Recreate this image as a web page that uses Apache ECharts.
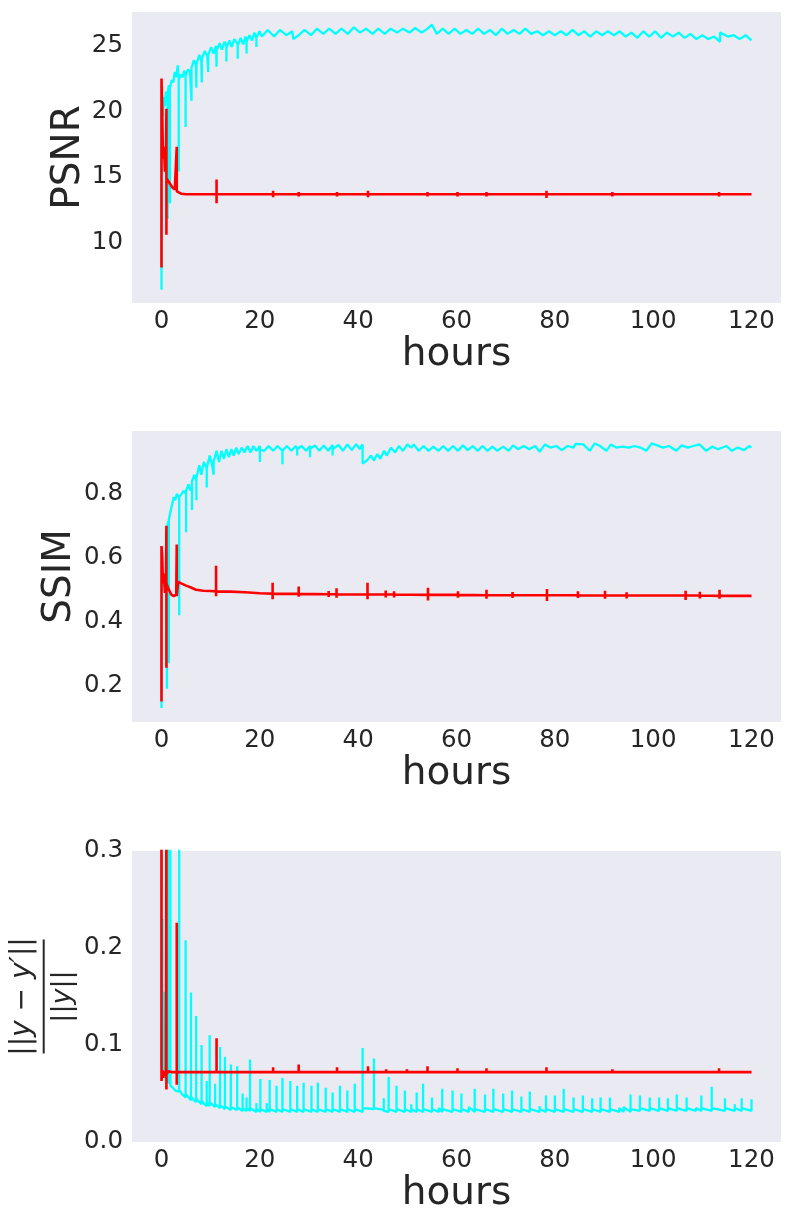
<!DOCTYPE html>
<html>
<head>
<meta charset="utf-8">
<script src="https://cdn.jsdelivr.net/npm/echarts@6/dist/echarts.min.js"></script>
<style>
  html, body { margin: 0; padding: 0; background: #fff; }
  #chart { width: 791px; height: 1224px; }
</style>
</head>
<body>
<div id="chart"></div>
<script>
// tick labels
const hourTicks = [0, 20, 40, 60, 80, 100, 120];
const psnrTicks = [10, 15, 20, 25];
const ssimTicks = [0.2, 0.4, 0.6, 0.8];
const errTicks = [0.0, 0.1, 0.2, 0.3];

// each row: [hour, value, value, ...] -> the line visits the values in order at that hour
const psnrCyan = [
  [0, 6.4, 20.3], [0.3, 19.6], [0.5, 21.1], [0.7, 20.4], [0.9, 21.5], [1.1, 20.8],
  [1.25, 21.2, 11.8, 21.4], [1.5, 22.0], [1.7, 21.9, 13.0, 21.8], [2.1, 22.4], [2.4, 22.2],
  [2.7, 23.0], [3.0, 22.6], [3.3, 23.5], [3.5, 22.5, 15.4, 22.4], [3.9, 22.8], [4.3, 22.6],
  [4.6, 23.1], [4.9, 22.8, 18.8, 22.7], [5.4, 23.2], [5.8, 23.0], [6.1, 23.1, 20.8, 23.3],
  [6.6, 23.9], [7.0, 23.5], [7.1, 23.5, 21.8, 23.6], [7.7, 24.3], [8.1, 23.8],
  [8.2, 23.8, 22.2, 24.0], [8.8, 24.6], [9.3, 24.2], [9.5, 24.3, 23.0, 24.3], [10.1, 24.9],
  [10.6, 24.4], [11.1, 25.0], [11.2, 24.9, 23.4, 24.6], [11.8, 25.2], [12.3, 24.7], [12.8, 25.3],
  [13.2, 25.0, 23.8, 24.8], [13.8, 25.4], [14.3, 24.9], [14.8, 25.5], [15.5, 25.1, 24.0, 25.0],
  [16.1, 25.6], [16.6, 25.1], [17.1, 25.7], [17.3, 25.4, 24.4, 25.3], [17.9, 25.8], [18.4, 25.4],
  [18.9, 26.0], [19.3, 25.6, 24.9, 25.6], [19.9, 26.1], [20.4, 25.7],
  [21.6, 26.2], [22.9, 25.7], [24.1, 26.2], [25.4, 25.8], [26.6, 26.1], [26.8, 25.5], [27.9, 25.8],
  [29.1, 26.2], [30.4, 25.8], [31.6, 26.3], [32.9, 25.9], [34.1, 26.3], [35.4, 25.9], [36.6, 26.3],
  [37.9, 25.9], [39.1, 26.4], [40.4, 26.0], [41.6, 26.3], [42.9, 25.9], [44.1, 26.3], [45.4, 25.9],
  [46.6, 26.3], [47.9, 26.0], [49.1, 26.3], [50.4, 26.0], [51.6, 26.35], [52.9, 26.0], [54.1, 26.3],
  [55.0, 26.6], [56.0, 25.9], [57.2, 26.3], [58.4, 25.9], [59.6, 26.3], [60.8, 25.9], [62.0, 26.2],
  [63.2, 25.9], [64.4, 26.3], [65.6, 25.9], [66.8, 26.2], [68.0, 25.8], [69.2, 26.3], [70.4, 25.9],
  [71.6, 26.2], [72.8, 25.9], [74.0, 26.3], [75.2, 25.9], [76.4, 26.1], [77.6, 25.8], [78.8, 26.1],
  [80.0, 25.8], [81.2, 26.1], [82.4, 25.8], [83.6, 26.2], [84.8, 25.8], [86.0, 26.1], [87.2, 25.7],
  [88.4, 26.1], [89.6, 25.8], [90.8, 26.1], [92.0, 25.8], [93.2, 26.1], [94.4, 25.7], [95.6, 26.0],
  [96.8, 25.6], [98.0, 26.1], [99.2, 25.7], [100.4, 26.1], [101.6, 25.6], [102.8, 26.0], [104.0, 25.7],
  [105.2, 26.0], [106.4, 25.6], [107.6, 25.9], [108.8, 25.5], [110.0, 25.8], [111.2, 25.5],
  [112.4, 25.7], [113.6, 25.3, 26.0], [115.2, 25.7], [116.4, 25.8], [117.6, 25.5], [118.8, 25.8],
  [120.0, 25.4]
];
const psnrRed = [
  [0, 8.1, 22.5], [0.1, 21.0], [0.3, 16.4], [0.5, 17.3], [0.7, 15.4], [0.9, 15.8],
  [1.0, 20.2, 10.6, 14.9], [1.3, 14.8], [1.7, 14.5], [2.2, 14.2], [2.7, 14.05],
  [3.1, 13.95, 17.3, 13.9], [3.5, 13.8], [4.0, 13.72], [5.0, 13.68],
  [11.2, 13.68, 14.8, 13.0, 13.68], [22.7, 13.68, 13.95, 13.45, 13.68],
  [27.9, 13.68, 13.85, 13.5, 13.68], [35.7, 13.68, 13.85, 13.5, 13.68],
  [42.0, 13.68, 13.95, 13.45, 13.68], [54.1, 13.68, 13.85, 13.5, 13.68],
  [60.2, 13.68, 13.85, 13.5, 13.68], [66.1, 13.68, 13.85, 13.5, 13.68],
  [78.3, 13.68, 13.95, 13.4, 13.68], [91.7, 13.68, 13.85, 13.5, 13.68],
  [113.4, 13.68, 13.85, 13.5, 13.68], [120.0, 13.68]
];

const ssimCyan = [
  [0, 0.13, 0.37], [0.15, 0.53], [0.35, 0.51], [0.55, 0.55], [0.8, 0.52], [1.0, 0.60],
  [1.1, 0.62, 0.19, 0.68], [1.4, 0.715], [1.5, 0.71, 0.27, 0.72], [1.9, 0.75], [2.2, 0.77],
  [2.5, 0.79], [2.8, 0.78], [3.1, 0.80], [3.6, 0.79, 0.42, 0.79], [4.1, 0.80], [4.5, 0.81],
  [5.0, 0.80, 0.68, 0.81], [5.5, 0.83], [5.9, 0.81], [6.2, 0.82, 0.75, 0.84], [6.7, 0.86],
  [7.1, 0.84, 0.78, 0.85], [7.7, 0.89], [8.1, 0.86], [8.6, 0.90], [9.2, 0.88, 0.82, 0.88],
  [9.8, 0.92], [10.3, 0.89], [10.6, 0.89, 0.86, 0.90], [11.2, 0.935], [11.7, 0.90], [12.2, 0.935],
  [12.7, 0.91], [13.2, 0.94], [13.7, 0.915], [14.2, 0.94], [14.7, 0.92], [15.2, 0.945],
  [15.7, 0.925], [16.3, 0.945], [16.9, 0.93], [17.5, 0.95], [18.1, 0.93], [18.7, 0.95],
  [19.3, 0.935], [20.0, 0.95, 0.90, 0.94], [20.9, 0.935], [21.8, 0.95], [22.7, 0.935],
  [23.6, 0.95], [24.6, 0.935, 0.893, 0.935], [25.5, 0.95], [26.4, 0.935], [27.3, 0.95],
  [27.6, 0.94, 0.92, 0.94], [28.5, 0.95], [29.4, 0.935], [30.2, 0.95, 0.915, 0.94], [31.2, 0.952],
  [32.1, 0.935], [33.0, 0.952], [33.9, 0.935], [34.8, 0.953, 0.92, 0.94], [36.0, 0.953],
  [36.9, 0.935], [37.8, 0.955], [38.7, 0.937], [39.6, 0.956], [40.3, 0.94], [40.9, 0.955, 0.895],
  [41.8, 0.905], [42.6, 0.92], [43.2, 0.905], [43.9, 0.925], [44.5, 0.91], [45.3, 0.935],
  [45.8, 0.92], [46.7, 0.945], [47.5, 0.93], [48.3, 0.95], [49.1, 0.935], [50.0, 0.955],
  [50.8, 0.945], [51.3, 0.955], [52.3, 0.935], [53.3, 0.95], [54.3, 0.935], [55.3, 0.948],
  [56.3, 0.935], [57.3, 0.95], [58.3, 0.935], [59.3, 0.95], [60.3, 0.935], [61.3, 0.952],
  [62.3, 0.937], [63.3, 0.95], [64.3, 0.935], [65.3, 0.95], [66.3, 0.935], [67.3, 0.948],
  [68.3, 0.935], [69.5, 0.948], [70.6, 0.935], [71.5, 0.952], [72.5, 0.94], [73.7, 0.95],
  [74.8, 0.94], [76.0, 0.95], [76.9, 0.932], [78.0, 0.955], [79.1, 0.945], [80.3, 0.95],
  [81.4, 0.937], [82.6, 0.95], [83.8, 0.945], [84.2, 0.957], [85.8, 0.955], [87.1, 0.935],
  [88.1, 0.958], [89.2, 0.95], [90.5, 0.935], [91.4, 0.955], [92.5, 0.945], [93.8, 0.948],
  [95.0, 0.945], [96.2, 0.95], [97.4, 0.945], [98.6, 0.935], [99.7, 0.958], [100.8, 0.952],
  [102.0, 0.945], [103.2, 0.95], [104.7, 0.935], [105.8, 0.952], [107.0, 0.945], [108.2, 0.95],
  [109.4, 0.955], [110.8, 0.935], [112.0, 0.948], [113.2, 0.94], [114.9, 0.95], [116.0, 0.935],
  [117.2, 0.945], [118.5, 0.937], [119.5, 0.95], [120.0, 0.945]
];
const ssimRed = [
  [0, 0.15, 0.637], [0.15, 0.60], [0.3, 0.52], [0.5, 0.55], [0.7, 0.49], [0.9, 0.50],
  [1.0, 0.70, 0.256, 0.52], [1.5, 0.50], [2.0, 0.485], [2.5, 0.48], [3.0, 0.485],
  [3.1, 0.642, 0.48], [3.4, 0.525], [4.0, 0.52], [5.0, 0.513], [6.0, 0.507], [7.0, 0.50],
  [8.5, 0.497], [10.0, 0.496], [11.1, 0.495, 0.575, 0.48, 0.495], [14.0, 0.494], [17.0, 0.492],
  [20.0, 0.489], [22.6, 0.488, 0.522, 0.47, 0.488], [27.9, 0.487, 0.51, 0.478, 0.487],
  [34.0, 0.486, 0.496, 0.477, 0.486], [35.6, 0.486, 0.505, 0.475, 0.486],
  [41.9, 0.485, 0.522, 0.47, 0.485], [45.6, 0.485, 0.498, 0.476, 0.485],
  [47.3, 0.485, 0.495, 0.476, 0.485], [54.2, 0.484, 0.506, 0.466, 0.484],
  [60.3, 0.484, 0.495, 0.475, 0.484], [66.1, 0.483, 0.5, 0.472, 0.483],
  [71.4, 0.483, 0.493, 0.474, 0.483], [78.4, 0.483, 0.502, 0.465, 0.483],
  [84.7, 0.483, 0.495, 0.474, 0.483], [90.2, 0.482, 0.497, 0.472, 0.482],
  [94.6, 0.482, 0.492, 0.473, 0.482], [106.6, 0.482, 0.497, 0.468, 0.482],
  [109.5, 0.482, 0.494, 0.473, 0.482], [113.5, 0.481, 0.5, 0.472, 0.481], [120.0, 0.481]
];

const errCyan = [
  [0, 0.35, 0.14, 0.35, 0.08], [0.2, 0.08, 0.23, 0.075], [0.5, 0.07, 0.155, 0.068], [0.9, 0.065],
  [1.3, 0.064, 0.35, 0.062], [1.8, 0.06, 0.35, 0.058], [2.3, 0.056], [2.8, 0.053], [3.2, 0.055],
  [3.6, 0.052, 0.35, 0.054], [4.2, 0.049], [4.9, 0.046, 0.208, 0.05], [5.5, 0.046],
  [6.0, 0.043, 0.154, 0.047], [6.6, 0.043], [7.05, 0.041, 0.13, 0.045], [7.7, 0.041],
  [8.15, 0.039, 0.10, 0.043], [8.7, 0.039], [9.2, 0.037, 0.063, 0.041], [9.8, 0.037, 0.11, 0.041],
  [10.9, 0.036, 0.06, 0.039], [11.9, 0.035, 0.098, 0.038], [12.9, 0.034, 0.088, 0.037],
  [14.1, 0.033, 0.08, 0.036], [15.4, 0.033, 0.078, 0.036], [16.5, 0.032, 0.05, 0.035],
  [17.3, 0.032, 0.046, 0.035], [18.0, 0.032, 0.085, 0.035], [19.3, 0.031, 0.04, 0.034],
  [20.1, 0.031, 0.065, 0.034], [21.4, 0.031, 0.040, 0.034], [22.0, 0.031, 0.064, 0.034],
  [23.4, 0.031, 0.058, 0.034], [24.6, 0.031, 0.066, 0.034], [26.2, 0.031, 0.063, 0.034],
  [27.6, 0.031, 0.058, 0.034], [28.9, 0.031, 0.061, 0.034], [30.5, 0.031, 0.058, 0.034],
  [31.8, 0.031, 0.061, 0.034], [33.4, 0.031, 0.056, 0.034], [34.8, 0.031, 0.051, 0.034],
  [36.3, 0.031, 0.058, 0.034], [37.8, 0.031, 0.053, 0.034], [39.3, 0.031, 0.060, 0.034],
  [40.9, 0.031, 0.097, 0.035], [43.2, 0.034, 0.086, 0.035], [45.2, 0.033, 0.045, 0.032],
  [46.2, 0.031, 0.067, 0.034], [47.8, 0.031, 0.058, 0.034], [49.5, 0.031, 0.053, 0.034],
  [50.8, 0.031, 0.039, 0.034], [51.9, 0.031, 0.051, 0.034], [53.2, 0.031, 0.060, 0.034],
  [55.0, 0.031, 0.046, 0.034], [56.4, 0.031, 0.035, 0.034], [57.1, 0.031, 0.055, 0.034],
  [59.2, 0.031, 0.053, 0.034], [61.0, 0.031, 0.050, 0.034], [62.5, 0.031, 0.036, 0.034],
  [63.7, 0.031, 0.055, 0.034], [65.8, 0.031, 0.049, 0.034], [67.5, 0.031, 0.055, 0.034],
  [69.5, 0.031, 0.050, 0.034], [71.3, 0.031, 0.053, 0.034], [73.2, 0.031, 0.047, 0.034],
  [74.9, 0.031, 0.052, 0.034], [76.9, 0.031, 0.037, 0.034], [78.2, 0.031, 0.048, 0.034],
  [80.0, 0.031, 0.048, 0.034], [81.8, 0.031, 0.055, 0.034], [83.8, 0.031, 0.046, 0.034],
  [85.7, 0.031, 0.048, 0.034], [87.6, 0.031, 0.045, 0.034], [89.3, 0.031, 0.046, 0.034],
  [91.2, 0.031, 0.046, 0.034], [93.1, 0.031, 0.035, 0.034], [94.0, 0.031, 0.036, 0.034],
  [95.4, 0.031, 0.049, 0.034], [97.3, 0.032, 0.048, 0.035], [99.3, 0.032, 0.046, 0.035],
  [101.2, 0.032, 0.046, 0.035], [103.0, 0.032, 0.045, 0.035], [104.8, 0.032, 0.049, 0.035],
  [106.8, 0.032, 0.046, 0.035], [108.7, 0.032, 0.035, 0.035], [109.8, 0.032, 0.048, 0.035],
  [111.9, 0.032, 0.057, 0.035], [114.6, 0.032, 0.045, 0.035], [116.6, 0.032, 0.039, 0.035],
  [118.0, 0.032, 0.045, 0.035], [120.0, 0.032, 0.044]
];
const errRed = [
  [0, 0.35, 0.063], [0.2, 0.074], [0.35, 0.066], [0.5, 0.073], [0.7, 0.068], [0.9, 0.073],
  [1.0, 0.35, 0.054, 0.07], [1.5, 0.073], [2.0, 0.072], [3.1, 0.072, 0.226, 0.059, 0.072],
  [11.2, 0.072, 0.107, 0.072], [22.7, 0.072, 0.077, 0.072], [27.9, 0.072, 0.080, 0.072],
  [35.7, 0.072, 0.077, 0.072], [42.0, 0.072, 0.078, 0.072], [45.7, 0.072, 0.075, 0.072],
  [49.9, 0.072, 0.075, 0.072], [54.1, 0.072, 0.078, 0.072], [60.2, 0.072, 0.076, 0.072],
  [66.1, 0.072, 0.076, 0.072], [78.3, 0.072, 0.077, 0.072], [91.7, 0.072, 0.075, 0.072],
  [113.4, 0.072, 0.076, 0.072], [120.0, 0.072]
];

const CYAN = '#00FFFF';
const RED = '#FF0000';
const TEXT = '#262626';
const FONT = 'DejaVu Sans';

function toPoints(rows) {
  const pts = [];
  rows.forEach(r => {
    for (let i = 1; i < r.length; i++) pts.push([r[0], r[i]]);
  });
  return pts;
}

const gridTops = [12, 431, 851];
const labelStyle = { color: TEXT, fontSize: 24.5, fontFamily: FONT };
const nameStyle = { color: TEXT, fontSize: 39, fontFamily: FONT };

const chart = echarts.init(document.getElementById('chart'));

const grids = gridTops.map(t => ({
  left: 132, top: t, width: 649, height: 291,
  show: true, backgroundColor: '#EAEAF2', borderWidth: 0
}));

const xAxes = gridTops.map((t, i) => ({
  gridIndex: i, type: 'value', min: -6, max: 126,
  axisLine: { show: false }, axisTick: { show: false }, splitLine: { show: false },
  axisLabel: Object.assign({ customValues: hourTicks, margin: 6 }, labelStyle),
  name: 'hours', nameLocation: 'middle', nameGap: 32, nameTextStyle: nameStyle
}));

function yAxis(i, min, max, ticks, digits, name, gap) {
  return {
    gridIndex: i, type: 'value', min: min, max: max,
    axisLine: { show: false }, axisTick: { show: false }, splitLine: { show: false },
    axisLabel: Object.assign({
      customValues: ticks, margin: 9,
      formatter: v => v.toFixed(digits)
    }, labelStyle),
    name: name, nameLocation: 'middle', nameGap: gap, nameMoveOverlap: false,
    nameTextStyle: nameStyle
  };
}

const yAxes = [
  yAxis(0, 5.39, 27.57, psnrTicks, 0, 'PSNR', 44),
  yAxis(1, 0.086, 0.997, ssimTicks, 1, 'SSIM', 53),
  yAxis(2, 0, 0.3, errTicks, 1, '', 0)
];

function line(i, rows, color, width) {
  return {
    type: 'line', xAxisIndex: i, yAxisIndex: i,
    data: toPoints(rows), showSymbol: false, symbol: 'none',
    lineStyle: { color: color, width: width }, clip: true, silent: true
  };
}

const option = {
  backgroundColor: '#ffffff',
  animation: false,
  grid: grids,
  xAxis: xAxes,
  yAxis: yAxes,
  series: [
    line(0, psnrCyan, CYAN, 2.3), line(0, psnrRed, RED, 2.6),
    line(1, ssimCyan, CYAN, 2.3), line(1, ssimRed, RED, 2.6),
    line(2, errCyan, CYAN, 2.3), line(2, errRed, RED, 2.6)
  ],
  graphic: [{
    type: 'group',
    x: 43.7, y: 996.5,
    rotation: Math.PI / 2,
    children: [
      {
        type: 'text', x: 0, y: -21,
        style: {
          text: '||{i|y} − {i|y′}||', fill: TEXT, fontSize: 28, fontFamily: FONT,
          align: 'center', verticalAlign: 'middle',
          rich: { i: { fontSize: 28, fontFamily: FONT, fontStyle: 'italic', fill: TEXT } }
        }
      },
      {
        type: 'line', shape: { x1: -57, y1: 0, x2: 57, y2: 0 },
        style: { stroke: TEXT, lineWidth: 2 }
      },
      {
        type: 'text', x: 0, y: 19,
        style: {
          text: '||{i|y}||', fill: TEXT, fontSize: 27, fontFamily: FONT,
          align: 'center', verticalAlign: 'middle',
          rich: { i: { fontSize: 27, fontFamily: FONT, fontStyle: 'italic', fill: TEXT } }
        }
      }
    ]
  }]
};

chart.setOption(option);
</script>
</body>
</html>
